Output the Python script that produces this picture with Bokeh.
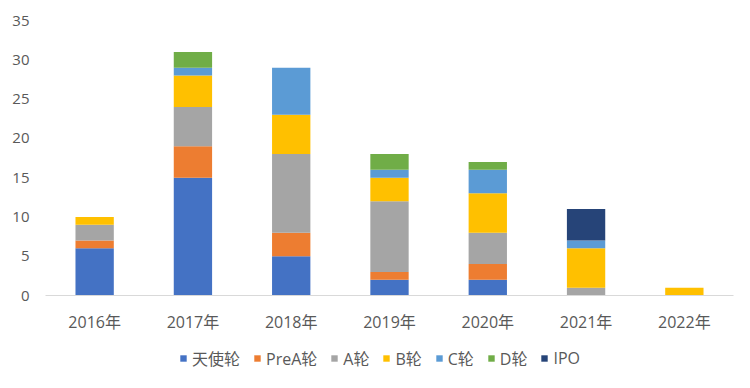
from bokeh.plotting import figure
from bokeh.models import FactorRange, Range1d, Legend, LegendItem, SingleIntervalTicker, ColumnDataSource
from bokeh.layouts import column
from bokeh.embed import file_html
from bokeh.resources import INLINE

years = ["2016年", "2017年", "2018年", "2019年", "2020年", "2021年", "2022年"]
series = ["天使轮", "PreA轮", "A轮", "B轮", "C轮", "D轮", "IPO"]
angel = [6, 15, 5, 2, 2, 0, 0]
prea = [1, 4, 3, 1, 2, 0, 0]
a_round = [2, 5, 10, 9, 4, 1, 0]
b_round = [1, 4, 5, 3, 5, 5, 1]
c_round = [0, 1, 6, 1, 3, 1, 0]
d_round = [0, 2, 0, 2, 1, 0, 0]
ipo = [0, 0, 0, 0, 0, 4, 0]
colors = ["#4472C4", "#ED7D31", "#A5A5A5", "#FFC000", "#5B9BD5", "#70AD47", "#264478"]

data = {"year": years}
keys = ["s0", "s1", "s2", "s3", "s4", "s5", "s6"]
for k, v in zip(keys, [angel, prea, a_round, b_round, c_round, d_round, ipo]):
    data[k] = v

FONT = "'Open Sans', 'Noto Sans CJK SC'"

p = figure(x_range=FactorRange(*years), y_range=Range1d(0, 35),
           width=742, height=340, output_backend="svg", toolbar_location=None,
           min_border_left=45, min_border_right=9, min_border_top=20, min_border_bottom=45)

renderers = p.vbar_stack(keys, x="year", width=0.39, color=colors, source=data, line_width=0)

p.outline_line_color = None
p.xgrid.grid_line_color = None
p.ygrid.grid_line_color = None

p.yaxis.ticker = SingleIntervalTicker(interval=5)
p.yaxis.axis_line_color = None
p.yaxis.major_tick_line_color = None
p.yaxis.minor_tick_line_color = None
p.yaxis.major_label_text_color = "#595959"
p.yaxis.major_label_text_font = FONT
p.yaxis.major_label_text_font_size = "15px"
p.yaxis.major_label_standoff = 10

p.xaxis.axis_line_color = "#D9D9D9"
p.xaxis.axis_line_width = 1
p.xaxis.major_tick_line_color = None
p.xaxis.minor_tick_line_color = None
p.xaxis.major_label_text_color = "#595959"
p.xaxis.major_label_text_font = FONT
p.xaxis.major_label_text_font_size = "16px"
p.xaxis.major_label_standoff = 9

# legend strip
q = figure(x_range=Range1d(0, 1), y_range=Range1d(0, 1), width=742, height=40,
           output_backend="svg", toolbar_location=None,
           min_border_left=0, min_border_right=0, min_border_top=0, min_border_bottom=0)
q.xaxis.visible = False
q.yaxis.visible = False
q.xgrid.visible = False
q.ygrid.visible = False
q.outline_line_color = None
dummy = ColumnDataSource(data=dict(x=[-1], top=[0]))
leg_items = []
for s, c in zip(series, colors):
    r = q.vbar(x="x", top="top", width=0.1, source=dummy, color=c, line_width=0)
    leg_items.append(LegendItem(label=s, renderers=[r]))

legend = Legend(items=leg_items, orientation="horizontal", location=(134, 10),
                label_text_font=FONT, label_text_font_size="16px", label_text_color="#595959",
                glyph_width=8, glyph_height=8, label_standoff=5, spacing=13,
                border_line_color=None, background_fill_alpha=0, margin=0, padding=0)
q.add_layout(legend, "center")

layout = column(p, q, spacing=0)
open("out.html", "w").write(file_html(layout, INLINE))
